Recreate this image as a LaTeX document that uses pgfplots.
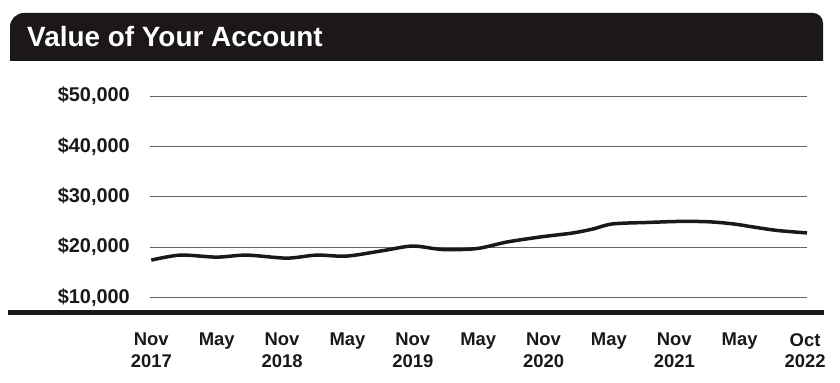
\documentclass[border=0pt]{standalone}
\usepackage{pgfplots}
\pgfplotsset{compat=1.18}
\usepackage{fontspec}
\setmainfont{Liberation Sans}
\definecolor{hdr}{RGB}{28,24,24}
\begin{document}
\begin{tikzpicture}
\path[use as bounding box] (0,0) rectangle (840bp,383bp);
\fill[hdr] (10bp,322bp) -- (10bp,356bp) arc[start angle=180, end angle=90, radius=14bp] -- (813bp,370bp) arc[start angle=90, end angle=0, radius=10bp] -- (823bp,322bp) -- cycle;
\node[anchor=base west, text=white, font=\fontsize{28}{32}\selectfont\bfseries, inner sep=0pt] at (27bp,336.5bp) {Value of Your Account};
\begin{axis}[
  at={(150bp,70bp)}, anchor=south west, scale only axis,
  width=657bp, height=217bp,
  xmin=-0.02, xmax=10.03, ymin=6900, ymax=50000,
  scaled y ticks=false, scaled x ticks=false,
  axis line style={draw=none}, major tick length=0pt,
  ytick={10000,20000,30000,40000,50000},
  yticklabels={{\$10,000},{\$20,000},{\$30,000},{\$40,000},{\$50,000}},
  ymajorgrids, grid style={black!60, line width=0.9bp},
  xtick={0,1,2,3,4,5,6,7,8,9,10},
  xticklabels={{Nov\\2017},May,{Nov\\2018},May,{Nov\\2019},May,{Nov\\2020},May,{Nov\\2021},May,{Oct\\2022}},
  xticklabel style={align=center, anchor=north, inner sep=0pt, yshift=-20bp, font=\fontsize{18.5}{22}\selectfont\bfseries, text=hdr},
  yticklabel style={anchor=east, inner sep=0pt, xshift=-20bp, font=\fontsize{20}{24}\selectfont\bfseries, text=hdr},
  clip=false,
]
\addplot[hdr, line width=3.5bp, smooth, tension=0.5] coordinates {
(0,17400) (0.44,18400) (1.0,18000) (1.46,18400) (2.07,17800) (2.53,18400)
(2.99,18200) (3.55,19300) (4.0,20200) (4.46,19500) (4.98,19700) (5.44,21000)
(5.95,22000) (6.45,22800) (6.76,23600) (7.06,24600) (7.63,24900) (8.13,25100)
(8.55,25000) (8.90,24600) (9.20,24000) (9.57,23300) (10.03,22800)
};
\end{axis}
\draw[line width=4.5bp, hdr] (8bp,70.5bp) -- (824bp,70.5bp);
\end{tikzpicture}
\end{document}
